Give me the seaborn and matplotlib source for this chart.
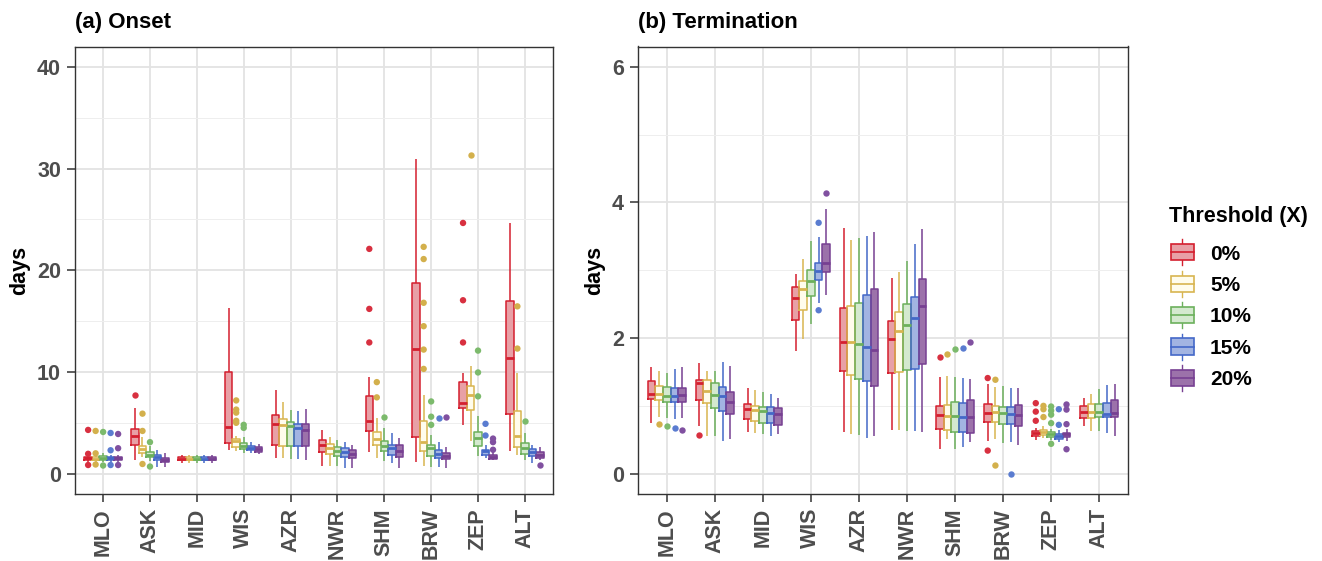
import numpy as np
import pandas as pd
import matplotlib
matplotlib.use('Agg')
import matplotlib.pyplot as plt
import seaborn as sns
from matplotlib.patches import Patch, Rectangle
from matplotlib.lines import Line2D
from matplotlib.legend_handler import HandlerBase
from matplotlib.ticker import MultipleLocator

stations = ['MLO', 'ASK', 'MID', 'WIS', 'AZR', 'NWR', 'SHM', 'BRW', 'ZEP', 'ALT']
thresholds = ['0%', '5%', '10%', '15%', '20%']

# box stats per station: [whisker low, Q1, median, Q3, whisker high]
onset_0 = [[1.1, 1.3, 1.5, 1.65, 1.8], [1.3, 2.85, 3.7, 4.4, 6.5], [1.0, 1.3, 1.47, 1.65, 1.85],
           [2.3, 3.0, 4.55, 9.95, 16.3], [1.5, 2.8, 4.9, 5.8, 8.25], [0.8, 2.15, 2.8, 3.35, 4.25],
           [2.15, 4.2, 5.2, 7.6, 9.5], [1.1, 3.65, 12.25, 18.7, 30.9], [4.8, 6.5, 6.95, 9.0, 9.85],
           [2.2, 5.9, 11.35, 17.0, 24.65]]
onset_5 = [[1.1, 1.3, 1.45, 1.6, 1.8], [1.6, 2.0, 2.4, 2.75, 3.6], [1.0, 1.3, 1.47, 1.65, 1.85],
           [2.2, 2.6, 3.2, 3.4, 3.7], [1.5, 2.7, 4.75, 5.4, 7.05], [0.75, 1.9, 2.5, 2.95, 3.6],
           [1.5, 2.8, 3.45, 4.1, 5.5], [0.8, 2.25, 3.15, 5.2, 7.75], [3.2, 6.3, 7.75, 8.6, 10.6],
           [1.8, 2.6, 3.75, 6.2, 9.9]]
onset_10 = [[1.1, 1.3, 1.5, 1.7, 2.0], [1.2, 1.6, 1.85, 2.1, 2.75], [1.0, 1.3, 1.47, 1.65, 1.85],
            [2.0, 2.4, 2.75, 3.0, 3.65], [1.45, 2.75, 4.65, 5.1, 6.3], [0.8, 1.75, 2.25, 2.6, 3.35],
            [1.2, 2.2, 2.75, 3.2, 4.5], [0.65, 1.7, 2.5, 2.8, 3.85], [1.7, 2.75, 3.55, 4.1, 5.7],
            [1.3, 1.95, 2.5, 3.0, 4.0]]
onset_15 = [[1.1, 1.3, 1.5, 1.65, 1.85], [0.7, 1.3, 1.6, 1.8, 2.35], [1.0, 1.3, 1.47, 1.65, 1.85],
            [2.0, 2.3, 2.5, 2.75, 3.1], [1.4, 2.75, 4.45, 4.9, 6.15], [0.6, 1.65, 2.1, 2.5, 3.15],
            [1.0, 1.85, 2.55, 2.85, 4.0], [0.7, 1.55, 1.95, 2.35, 3.1], [1.5, 1.85, 2.2, 2.35, 2.85],
            [1.05, 1.75, 2.1, 2.45, 2.85]]
onset_20 = [[1.1, 1.3, 1.5, 1.65, 1.85], [0.7, 1.1, 1.35, 1.55, 2.0], [1.0, 1.3, 1.47, 1.65, 1.85],
            [1.9, 2.15, 2.4, 2.6, 2.9], [1.3, 2.75, 4.25, 4.9, 6.35], [0.6, 1.55, 1.95, 2.35, 2.85],
            [0.6, 1.65, 2.2, 2.8, 3.5], [0.6, 1.4, 1.7, 2.05, 2.6], [1.3, 1.45, 1.6, 1.8, 2.1],
            [1.3, 1.55, 1.85, 2.1, 2.6]]

# outlier points: (station, value)
onset_out_0 = [('MLO', 4.3), ('MLO', 1.95), ('MLO', 0.85), ('ASK', 7.7), ('SHM', 22.1), ('SHM', 16.2),
               ('SHM', 12.9), ('ZEP', 24.65), ('ZEP', 17.05), ('ZEP', 12.9)]
onset_out_5 = [('MLO', 4.2), ('MLO', 2.0), ('MLO', 0.9), ('ASK', 5.9), ('ASK', 4.2), ('ASK', 0.95),
               ('WIS', 7.2), ('WIS', 6.3), ('WIS', 6.0), ('WIS', 5.2), ('WIS', 5.0), ('SHM', 9.0),
               ('SHM', 7.5), ('BRW', 22.3), ('BRW', 21.1), ('BRW', 16.8), ('BRW', 14.5), ('BRW', 12.2),
               ('BRW', 10.3), ('ZEP', 31.3), ('ALT', 16.45), ('ALT', 12.3)]
onset_out_10 = [('MLO', 4.1), ('MLO', 0.8), ('ASK', 3.1), ('ASK', 0.7), ('WIS', 4.8), ('WIS', 4.5),
                ('SHM', 5.6), ('BRW', 7.1), ('BRW', 5.6), ('BRW', 4.8), ('ZEP', 12.1), ('ZEP', 9.95),
                ('ZEP', 7.6), ('ALT', 5.2)]
onset_out_15 = [('MLO', 4.0), ('MLO', 2.3), ('MLO', 0.85), ('BRW', 5.5), ('ZEP', 4.9), ('ZEP', 3.75)]
onset_out_20 = [('MLO', 3.9), ('MLO', 2.5), ('MLO', 0.85), ('BRW', 5.6), ('ZEP', 3.45), ('ZEP', 3.1),
                ('ZEP', 2.35), ('ALT', 0.85)]

term_0 = [[0.75, 1.10, 1.18, 1.36, 1.57], [0.70, 1.09, 1.33, 1.38, 1.63], [0.62, 0.81, 0.96, 1.025, 1.26],
          [1.81, 2.26, 2.59, 2.75, 2.94], [0.61, 1.515, 1.945, 2.45, 3.63], [0.65, 1.49, 1.985, 2.25, 2.89],
          [0.36, 0.66, 0.87, 1.0, 1.43], [0.475, 0.76, 0.90, 1.025, 1.32], [0.5, 0.56, 0.60, 0.63, 0.67],
          [0.705, 0.82, 0.915, 1.0, 1.11]]
term_5 = [[0.83, 1.09, 1.17, 1.30, 1.51], [0.56, 1.04, 1.22, 1.38, 1.51], [0.60, 0.775, 0.94, 1.0, 1.24],
          [1.98, 2.42, 2.72, 2.84, 3.16], [0.58, 1.46, 1.94, 2.47, 3.45], [0.64, 1.50, 2.10, 2.38, 2.975],
          [0.51, 0.65, 0.85, 1.01, 1.44], [0.51, 0.76, 0.905, 1.0, 1.28], [0.52, 0.575, 0.615, 0.64, 0.7],
          [0.63, 0.82, 0.905, 1.02, 1.18]]
term_10 = [[0.82, 1.06, 1.15, 1.28, 1.49], [0.56, 0.975, 1.16, 1.33, 1.51], [0.58, 0.74, 0.925, 0.99, 1.2],
           [2.2, 2.62, 2.84, 3.0, 3.43], [0.57, 1.39, 1.91, 2.52, 3.47], [0.63, 1.53, 2.19, 2.5, 3.14],
           [0.37, 0.62, 0.85, 1.06, 1.42], [0.45, 0.73, 0.89, 0.99, 1.30], [0.5, 0.54, 0.59, 0.61, 0.66],
           [0.63, 0.83, 0.905, 1.02, 1.245]]
term_15 = [[0.81, 1.06, 1.15, 1.26, 1.54], [0.485, 0.92, 1.15, 1.275, 1.64], [0.56, 0.74, 0.89, 0.98, 1.18],
           [2.52, 2.85, 2.99, 3.11, 3.49], [0.525, 1.37, 1.87, 2.64, 3.5], [0.63, 1.55, 2.30, 2.61, 3.38],
           [0.39, 0.61, 0.83, 1.04, 1.41], [0.47, 0.73, 0.88, 0.99, 1.26], [0.47, 0.515, 0.56, 0.59, 0.65],
           [0.6, 0.83, 0.88, 1.04, 1.31]]
term_20 = [[0.82, 1.06, 1.16, 1.27, 1.57], [0.51, 0.88, 1.06, 1.21, 1.59], [0.58, 0.72, 0.875, 0.97, 1.12],
           [2.63, 2.975, 3.11, 3.38, 3.91], [0.55, 1.3, 1.82, 2.73, 3.57], [0.62, 1.61, 2.47, 2.87, 3.61],
           [0.46, 0.60, 0.83, 1.08, 1.40], [0.42, 0.71, 0.86, 1.01, 1.27], [0.48, 0.54, 0.58, 0.60, 0.66],
           [0.55, 0.83, 0.89, 1.08, 1.32]]

term_out_0 = [('ASK', 0.57), ('SHM', 1.725), ('BRW', 1.41), ('BRW', 0.34), ('ZEP', 1.04), ('ZEP', 0.915),
              ('ZEP', 0.78)]
term_out_5 = [('MLO', 0.735), ('SHM', 1.765), ('BRW', 1.385), ('BRW', 0.12), ('ZEP', 1.0), ('ZEP', 0.95),
              ('ZEP', 0.835)]
term_out_10 = [('MLO', 0.705), ('SHM', 1.835), ('ZEP', 0.99), ('ZEP', 0.93), ('ZEP', 0.87), ('ZEP', 0.745),
               ('ZEP', 0.44)]
term_out_15 = [('MLO', 0.67), ('WIS', 3.70), ('WIS', 2.41), ('SHM', 1.86), ('BRW', 0.0), ('ZEP', 0.95),
               ('ZEP', 0.72)]
term_out_20 = [('MLO', 0.65), ('WIS', 4.14), ('SHM', 1.94), ('ZEP', 1.02), ('ZEP', 0.945), ('ZEP', 0.73),
               ('ZEP', 0.36)]

edge_colors = ['#D41F2F', '#D8B550', '#6CB05C', '#4468C8', '#774092']
fill_colors = ['#E8A0A6', '#FFFCEC', '#D4E9CF', '#A2B4E2', '#9C72AA']
dot_colors = ['#D83040', '#D3B04C', '#7CBA6C', '#5A7CD0', '#8050A0']

plt.rcParams['font.family'] = ['Liberation Sans', 'DejaVu Sans']
plt.rcParams['font.weight'] = 'bold'
plt.rcParams['axes.labelweight'] = 'bold'


def box_frame(stats_by_thr):
    rows = []
    for thr, stats in zip(thresholds, stats_by_thr):
        for st, vals in zip(stations, stats):
            for v in vals:
                rows.append((st, thr, v))
    return pd.DataFrame(rows, columns=['station', 'threshold', 'days'])


def out_frame(outs_by_thr):
    rows = []
    for thr, outs in zip(thresholds, outs_by_thr):
        for st, v in outs:
            rows.append((st, thr, v))
    return pd.DataFrame(rows, columns=['station', 'threshold', 'days'])


def draw_panel(ax, box_df, out_df, title, ylim, major, minor):
    common = dict(x='station', y='days', hue='threshold', order=stations, hue_order=thresholds,
                  saturation=1, whis=(0, 100), showfliers=False, showcaps=False, width=0.8,
                  legend=False, ax=ax)
    # fills first, then coloured outlines on top
    sns.boxplot(data=box_df, palette=fill_colors, linewidth=0, **common)
    sns.boxplot(data=box_df, palette=edge_colors, fill=False, linewidth=1.1,
                medianprops=dict(linewidth=2.0), **common)
    sns.stripplot(data=out_df, x='station', y='days', hue='threshold', order=stations,
                  hue_order=thresholds, palette=dot_colors, dodge=True, jitter=False,
                  size=4.6, linewidth=0, legend=False, ax=ax)

    ax.set_xlim(-0.6, 9.6)
    ax.set_ylim(*ylim)
    ax.yaxis.set_major_locator(MultipleLocator(major))
    ax.yaxis.set_minor_locator(MultipleLocator(minor))
    ax.set_axisbelow(True)
    ax.grid(True, which='major', axis='both', color='#E3E3E3', linewidth=1.3)
    ax.grid(True, which='minor', axis='y', color='#EEEEEE', linewidth=0.7)
    for sp in ax.spines.values():
        sp.set_color('#333333')
        sp.set_linewidth(1.0)
    ax.tick_params(which='major', direction='out', length=5.5, width=1.1, color='#333333',
                   labelsize=15.5, labelcolor='#4D4D4D', pad=4.5)
    ax.tick_params(which='minor', length=0)
    ax.tick_params(axis='x', labelrotation=90)
    ax.set_xlabel('')
    ax.set_ylabel('days', fontsize=15.5, color='black', labelpad=5)
    ax.set_title(title, loc='left', fontsize=16, fontweight='bold', pad=13)


class BoxKey(HandlerBase):
    def create_artists(self, legend, orig_handle, xdescent, ydescent, width, height, fontsize, trans):
        ec = orig_handle.get_edgecolor()
        fc = orig_handle.get_facecolor()
        x0, y0 = -xdescent, -ydescent
        whisk = Line2D([x0 + width / 2] * 2, [y0 - 0.3 * height, y0 + 1.3 * height],
                       color=ec, lw=1.0, transform=trans)
        box = Rectangle((x0, y0), width, height, facecolor=fc,
                        edgecolor=ec, lw=1.2, transform=trans)
        med = Line2D([x0, x0 + width], [y0 + height / 2] * 2, color=ec, lw=1.2, transform=trans)
        return [whisk, box, med]


fig = plt.figure(figsize=(13.22, 5.61), dpi=100)
ax1 = fig.add_axes([75 / 1322, 67 / 561, 478 / 1322, 447.5 / 561])
ax2 = fig.add_axes([638 / 1322, 67 / 561, 490 / 1322, 447.5 / 561])

draw_panel(ax1, box_frame([onset_0, onset_5, onset_10, onset_15, onset_20]),
           out_frame([onset_out_0, onset_out_5, onset_out_10, onset_out_15, onset_out_20]),
           '(a) Onset', (-2, 42), 10, 5)
draw_panel(ax2, box_frame([term_0, term_5, term_10, term_15, term_20]),
           out_frame([term_out_0, term_out_5, term_out_10, term_out_15, term_out_20]),
           '(b) Termination', (-0.3, 6.3), 2, 1)

fig.text(1169 / 1322, 1 - 216.7 / 561, 'Threshold (X)', ha='left', va='center',
         fontsize=15.5, fontweight='bold')
handles = [Patch(facecolor=f, edgecolor=e) for f, e in zip(fill_colors, edge_colors)]
fig.legend(handles, thresholds, loc='center left', bbox_to_anchor=(1170.5 / 1322, 1 - 316.7 / 561),
           frameon=False, handler_map={Patch: BoxKey()}, fontsize=15, borderpad=0,
           borderaxespad=0, handlelength=1.15, handleheight=0.82, labelspacing=0.58,
           handletextpad=0.75)

fig.savefig('out.png', dpi=100)
